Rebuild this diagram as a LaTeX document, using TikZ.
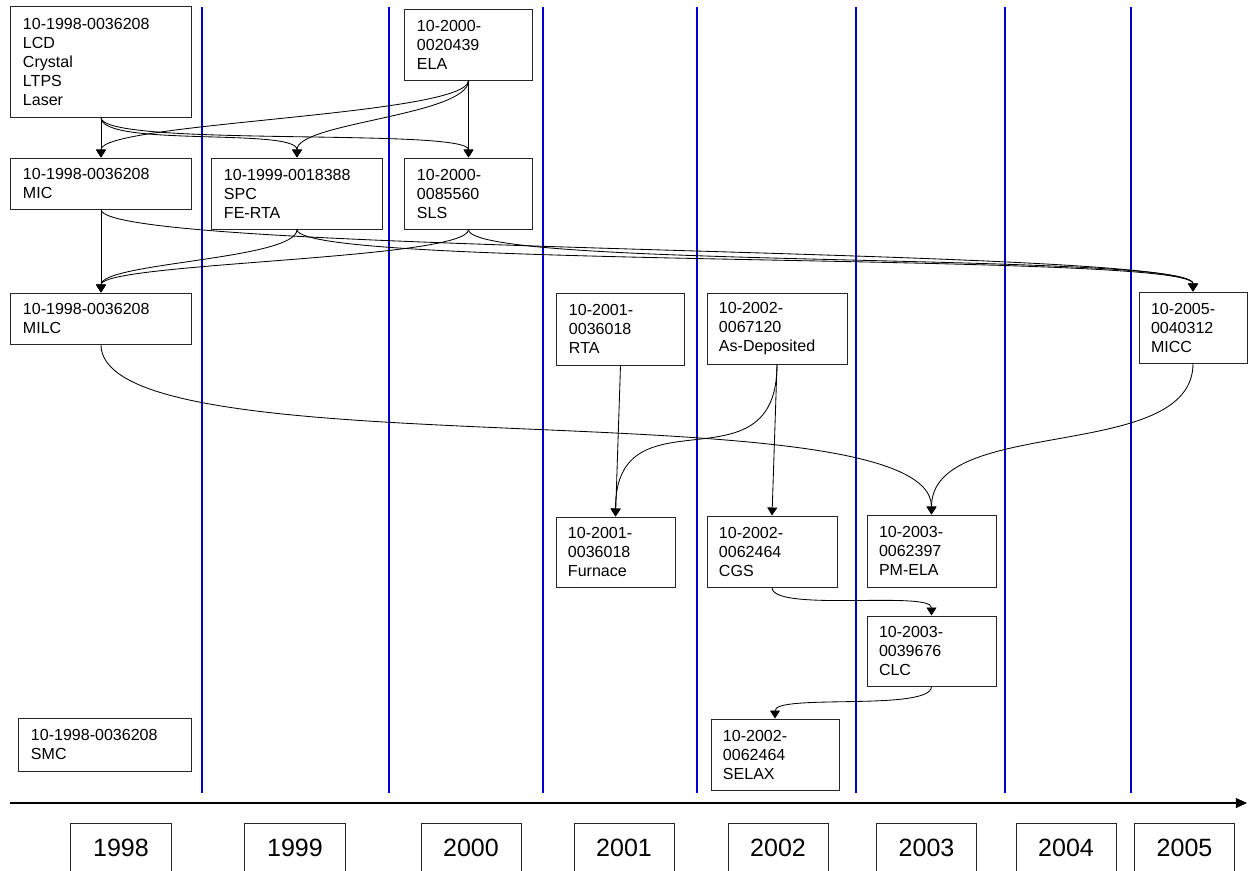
\documentclass[tikz,border=0pt]{standalone}
\usepackage{fontspec}
\setmainfont{Liberation Sans}
\usetikzlibrary{arrows.meta,positioning}
\definecolor{yearline}{RGB}{0,0,205}

\begin{document}
\begin{tikzpicture}[x=0.025cm,y=-0.025cm,
      >={Triangle[length=0.2cm,width=0.25cm]},
      box/.style={draw=black!85,line width=0.7pt,align=left,inner xsep=0.3cm,inner ysep=0pt,
        font=\fontsize{11.4}{13.5}\selectfont},
      yr/.style={draw=black!85,line width=0.7pt,minimum width=2.5cm,minimum height=1.25cm,
        font=\fontsize{17.8}{20}\selectfont},
      link/.style={->,line width=0.6pt}]
    \clip (0,0) rectangle (1248,870);
    \fill[white] (0,0) rectangle (1248,870);
    % year separators
    \foreach \x in {202,389,543,697,856,1005,1131}
      \draw[yearline,line width=1.4pt] (\x,7) -- (\x,793);
    % patents
    \node[box,text width=3.9cm,minimum height=2.75cm] (lcd) at (101,62) {10-1998-0036208\\LCD\\Crystal\\LTPS\\Laser};
    \node[box,text width=2.575cm,minimum height=1.775cm] (ela) at (468.5,44.5) {10-2000-\\0020439\\ELA};
    \node[box,text width=3.9cm,minimum height=1.275cm] (mic) at (101,183.5) {10-1998-0036208\\MIC};
    \node[box,text width=3.65cm,minimum height=1.775cm] (spc) at (297,193.5) {10-1999-0018388\\SPC\\FE-RTA};
    \node[box,text width=2.575cm,minimum height=1.775cm] (sls) at (468.5,193.5) {10-2000-\\0085560\\SLS};
    \node[box,text width=3.9cm,minimum height=1.275cm] (milc) at (101,318.5) {10-1998-0036208\\MILC};
    \node[box,text width=2.575cm,minimum height=1.8cm] (rta) at (620.5,329) {10-2001-\\0036018\\RTA};
    \node[box,text width=2.9cm,minimum height=1.775cm] (asdep) at (777,328.5) {10-2002-\\0067120\\As-Deposited};
    \node[box,text width=2.1cm,minimum height=1.775cm] (micc) at (1193,327.5) {10-2005-\\0040312\\MICC};
    \node[box,text width=2.375cm,minimum height=1.75cm] (furn) at (615.5,552) {10-2001-\\0036018\\Furnace};
    \node[box,text width=2.65cm,minimum height=1.775cm] (cgs) at (772,551.5) {10-2002-\\0062464\\CGS};
    \node[box,text width=2.625cm,minimum height=1.8cm] (pmela) at (931.5,551) {10-2003-\\0062397\\PM-ELA};
    \node[box,text width=2.625cm,minimum height=1.75cm] (clc) at (931.5,651) {10-2003-\\0039676\\CLC};
    \node[box,text width=2.6cm,minimum height=1.775cm] (selax) at (775,754.5) {10-2002-\\0062464\\SELAX};
    \node[box,text width=3.7cm,minimum height=1.325cm] (smc) at (105,744.5) {10-1998-0036208\\SMC};
    % citations
    \draw[link] (lcd) -- (mic);
    \draw[link] (lcd.south) .. controls +(0,30) and +(0,-30) .. (spc.north);
    \draw[link] (lcd.south) .. controls +(0,30) and +(0,-30) .. (sls.north);
    \draw[link] (ela) -- (sls);
    \draw[link] (ela.south) .. controls +(0,35) and +(0,-35) .. (mic.north);
    \draw[link] (ela.south) .. controls +(0,35) and +(0,-35) .. (spc.north);
    \draw[link] (mic) -- (milc);
    \draw[link] (spc.south) .. controls +(0,30) and +(0,-30) .. (milc.north);
    \draw[link] (sls.south) .. controls +(0,30) and +(0,-30) .. (milc.north);
    \draw[link] (mic.south) .. controls +(0,45) and +(0,-45) .. (micc.north);
    \draw[link] (spc.south) .. controls +(0,40) and +(0,-40) .. (micc.north);
    \draw[link] (sls.south) .. controls +(0,40) and +(0,-40) .. (micc.north);
    \draw[link] (milc.south) .. controls +(0,130) and +(0,-130) .. (pmela.north);
    \draw[link] (micc.south) .. controls +(0,100) and +(0,-100) .. (pmela.north);
    \draw[link] (rta.south) -- (furn.north);
    \draw[link] (asdep.south) .. controls +(0,130) and +(0,-130) .. (furn.north);
    \draw[link] (asdep.south) -- (cgs.north);
    \draw[link] (cgs.south) .. controls +(0,25) and +(0,-25) .. (clc.north);
    \draw[link] (clc.south) .. controls +(0,25) and +(0,-25) .. (selax.north);
    % time axis
    \coordinate (t0) at (10,803);
    \coordinate (t1) at (1247,803);
    \draw[-{Triangle[length=0.28cm,width=0.25cm]},line width=0.9pt] (t0) -- (t1);
    \foreach \yr/\x in {1998/121,1999/295,2000/471,2001/624,2002/778,2003/926.5,2004/1066,2005/1184.5}
      \node[yr] (y\yr) at (\x,848) {\yr};
  \end{tikzpicture}
\end{document}
